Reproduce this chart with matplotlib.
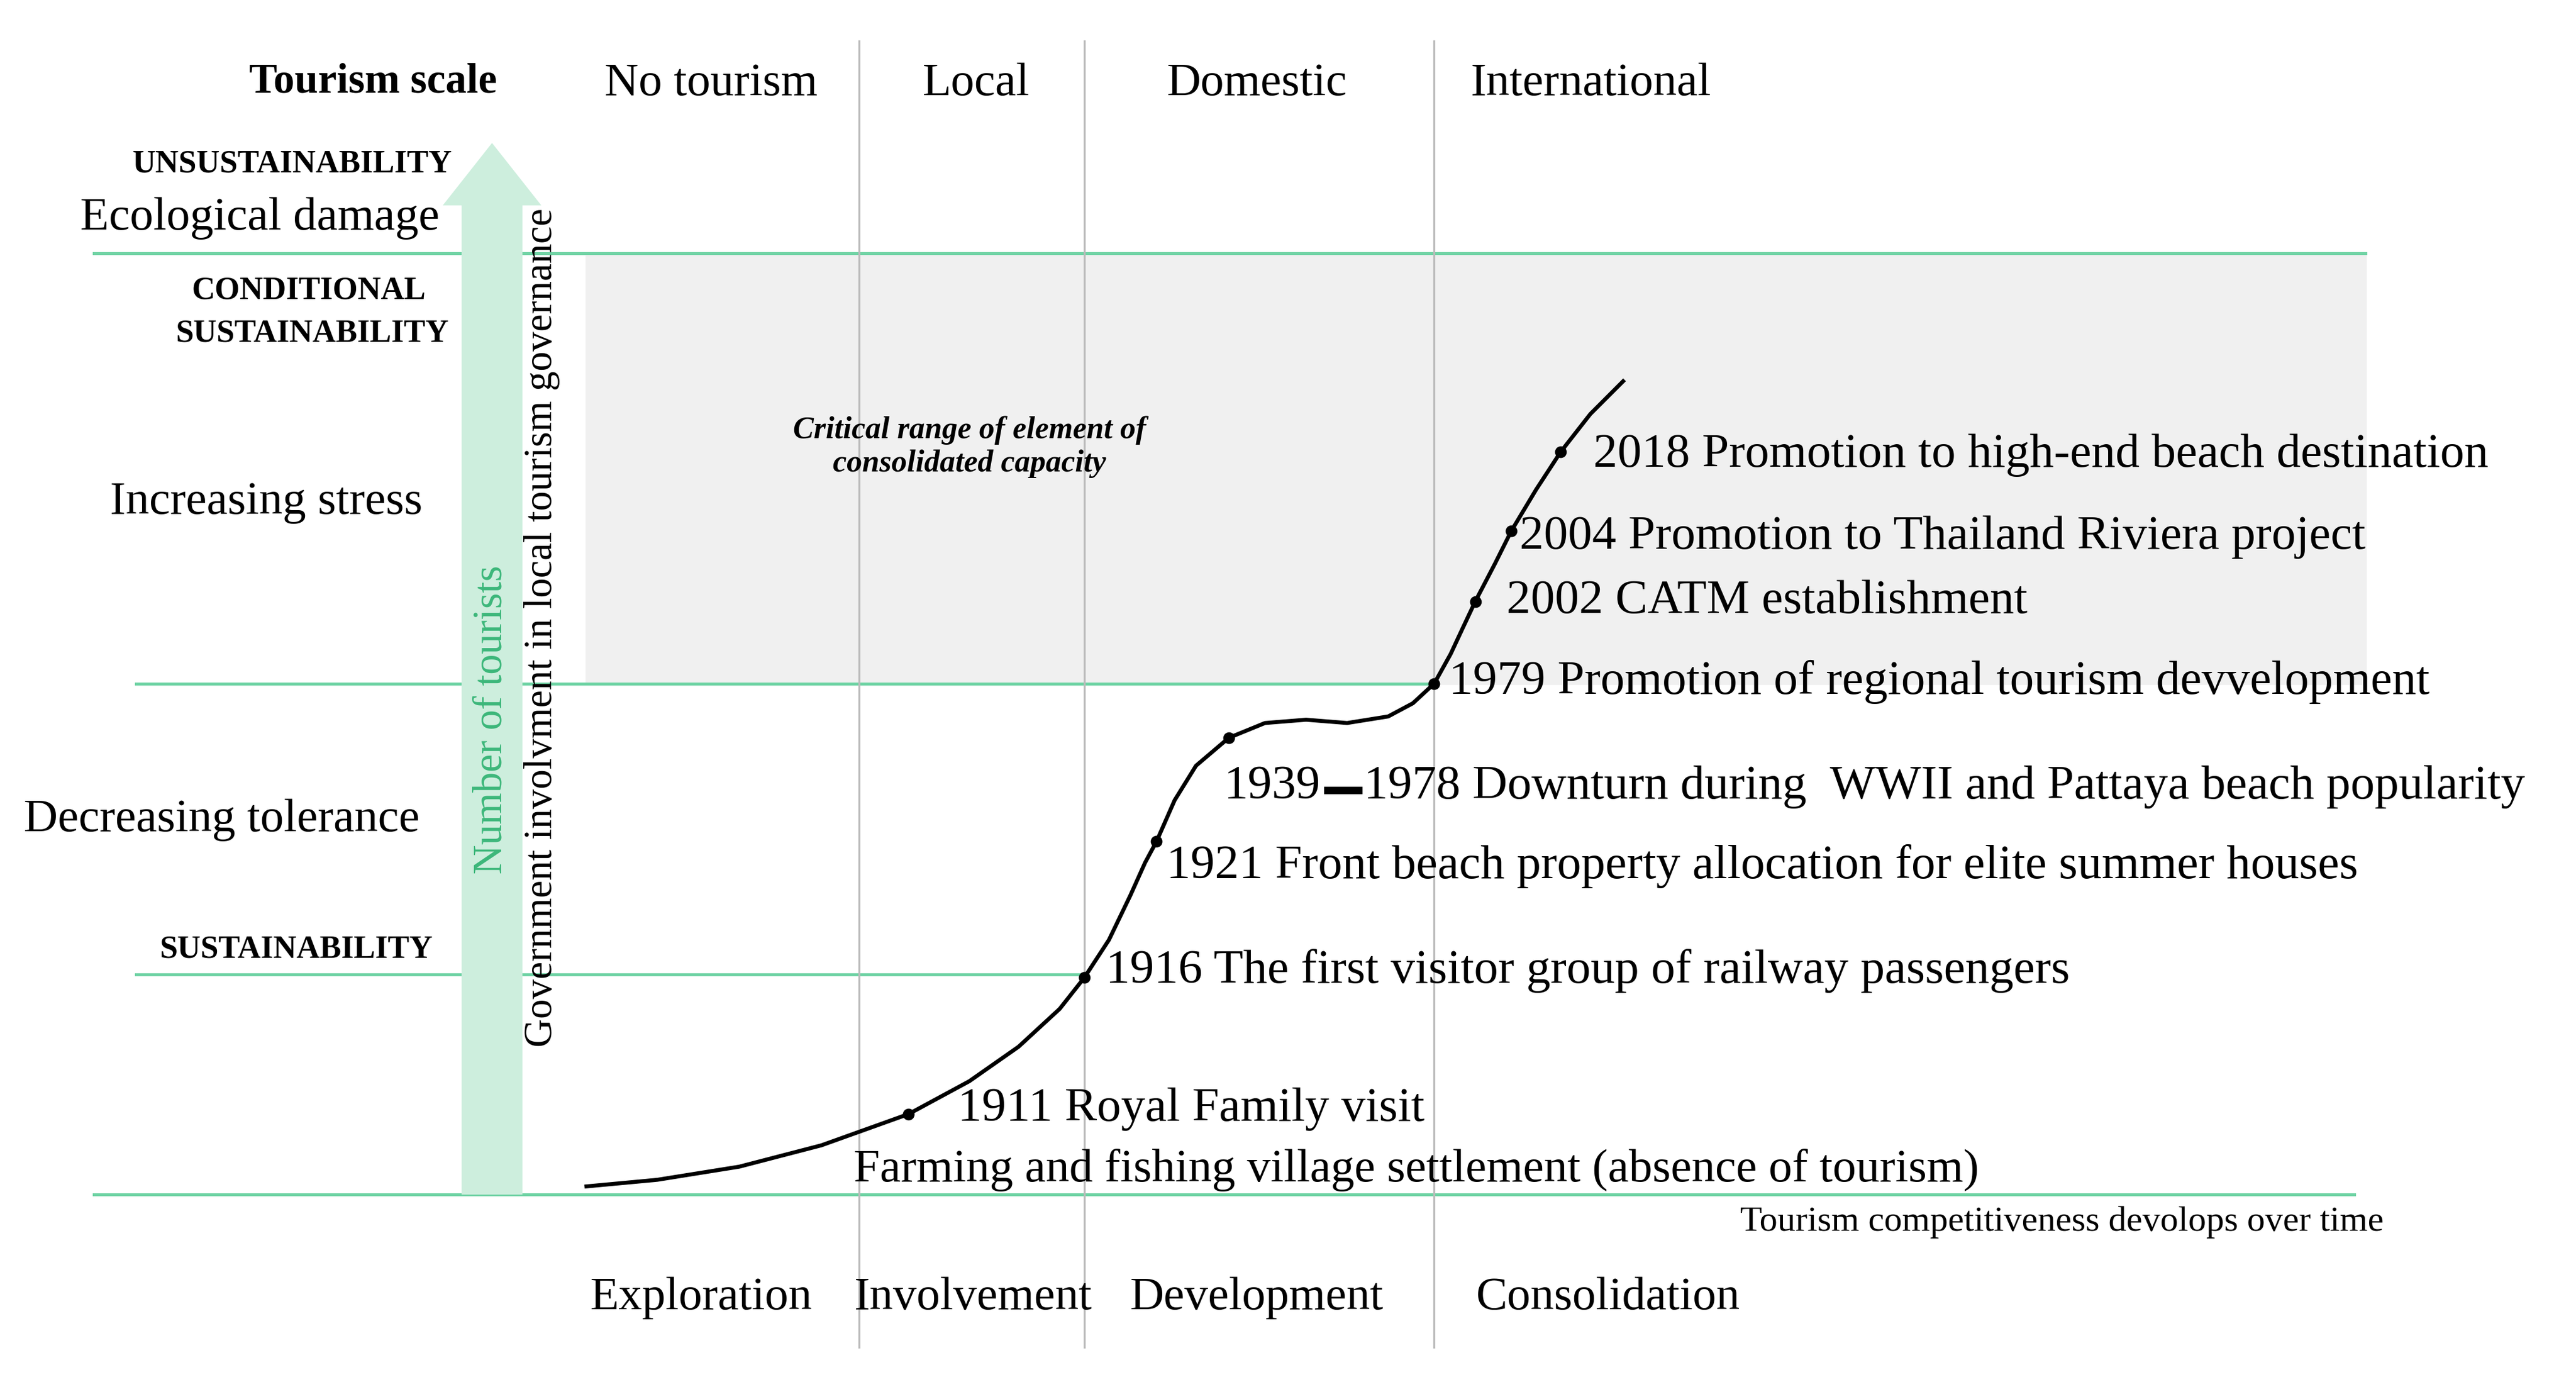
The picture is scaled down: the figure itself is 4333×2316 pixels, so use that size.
import matplotlib
matplotlib.use("Agg")
import matplotlib.pyplot as plt
from matplotlib.patches import FancyArrow, Rectangle

plt.rcParams['font.family'] = ['Liberation Serif', 'DejaVu Serif']

# curve points (diagram px coords)
curve_x = [357, 400, 450, 500, 553, 590, 620, 645, 660, 675, 688, 697, 704, 715, 728, 748, 770, 795, 820, 845, 860, 873, 883, 890, 898, 910, 920, 935, 950, 968, 988]
curve_y = [722, 718, 710, 697, 678, 658, 637, 614, 595, 572, 545, 525, 512, 487, 466, 449, 440, 438, 440, 436, 428, 416, 398, 383, 366, 343, 323, 298, 275, 252, 232]
event_x = [553, 660, 704, 748, 873, 898, 920, 950]
event_y = [678, 595, 512, 449, 416, 366, 323, 275]
event_labels = ["1911 Royal Family visit",
                "1916 The first visitor group of railway passengers",
                "1921 Front beach property allocation for elite summer houses",
                "1978 Downturn during  WWII and Pattaya beach popularity",
                "1979 Promotion of regional tourism devvelopment",
                "2002 CATM establishment",
                "2004 Promotion to Thailand Riviera project",
                "2018 Promotion to high-end beach destination"]
label_pos = [(583, 675), (673, 591), (710, 527), (830, 479), (882, 415), (917, 366), (925, 327), (970, 277)]
top_labels = ["No tourism", "Local", "Domestic", "International"]
top_x = [433, 594, 765, 968]
bottom_labels = ["Exploration", "Involvement", "Development", "Consolidation"]
bottom_x = [427, 592, 765, 979]

fig = plt.figure(figsize=(4333/300, 2316/300), dpi=300)
ax = fig.add_axes([0, 0, 1, 1])
ax.set_xlim(0, 1568); ax.set_ylim(838, 0); ax.axis('off')

green = '#6fd3a4'
ax.add_patch(Rectangle((357, 154), 1083, 262, color='#f0f0f0', zorder=0))
for y, x0, x1 in [(154, 57, 1440), (416, 83, 873), (593, 83, 660), (727, 57, 1433)]:
    ax.plot([x0, x1], [y, y], color=green, lw=1.2, zorder=1)
for x in [523, 660, 873]:
    ax.plot([x, x], [25, 820], color='#bbbbbb', lw=0.8, zorder=1)

ax.add_patch(FancyArrow(299.5, 727, 0, -640, width=37, head_width=60, head_length=38,
                        length_includes_head=True, color='#cdeedd', lw=0, zorder=1))
ax.text(299, 438, "Number of tourists", rotation=90, color='#3cb77a', fontsize=16.5, ha='center', va='center')
ax.text(330, 382, "Government involvment in local tourism governance", rotation=90, fontsize=16, ha='center', va='center')

ax.plot(curve_x, curve_y, color='black', lw=1.6, zorder=3, solid_joinstyle='round')
ax.scatter(event_x, event_y, s=14, color='black', zorder=4)
for (lx, ly), lab in zip(label_pos, event_labels):
    ax.text(lx, ly, lab, fontsize=19.5, ha='left', va='center')
ax.text(745, 479, "1939", fontsize=19.5, ha='left', va='center')
ax.plot([808, 827], [481, 481], color='black', lw=3, zorder=3)

ax.text(227, 50, "Tourism scale", fontsize=17, fontweight='bold', ha='center', va='center')
for t, x in zip(top_labels, top_x):
    ax.text(x, 51, t, fontsize=19, ha='center', va='center')
for t, x in zip(bottom_labels, bottom_x):
    ax.text(x, 790, t, fontsize=19, ha='center', va='center')
ax.text(178, 100, "UNSUSTAINABILITY", fontsize=13, fontweight='bold', ha='center', va='center')
ax.text(158, 133, "Ecological damage", fontsize=19, ha='center', va='center')
ax.text(188, 177, "CONDITIONAL", fontsize=13, fontweight='bold', ha='center', va='center')
ax.text(190, 203, "SUSTAINABILITY", fontsize=13, fontweight='bold', ha='center', va='center')
ax.text(162, 306, "Increasing stress", fontsize=19, ha='center', va='center')
ax.text(135, 499, "Decreasing tolerance", fontsize=19, ha='center', va='center')
ax.text(180, 578, "SUSTAINABILITY", fontsize=13, fontweight='bold', ha='center', va='center')
ax.text(590, 272, "Critical range of element of\nconsolidated capacity", fontsize=12.5, fontweight='bold',
        style='italic', ha='center', va='center', linespacing=1.2)
ax.text(862, 712, "Farming and fishing village settlement (absence of tourism)", fontsize=19, ha='center', va='center')
ax.text(1255, 744, "Tourism competitiveness devolops over time", fontsize=14.5, ha='center', va='center')

fig.savefig("out.png", dpi=300)
